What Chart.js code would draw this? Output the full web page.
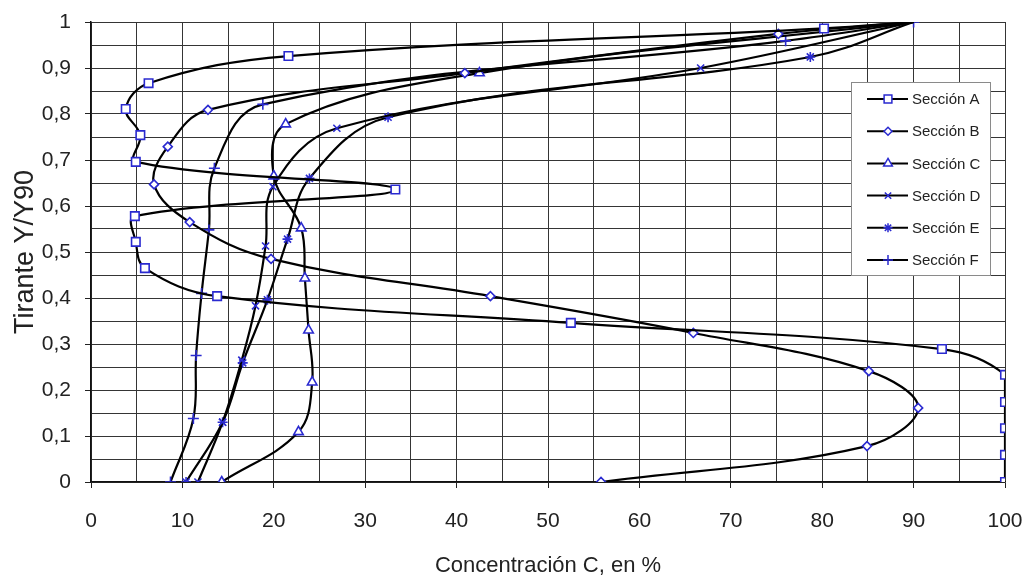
<!DOCTYPE html>
<html>
<head>
<meta charset="utf-8">
<title>Concentración vs Tirante</title>
<script src="https://cdn.jsdelivr.net/npm/chart.js"></script>
<style>
  body { margin: 0; background: #fff; }
  #wrap { width: 1026px; height: 580px; }
</style>
</head>
<body>
<div id="wrap"><canvas id="perfilChart" width="1026" height="580"></canvas></div>
<script>
// ============================================================================
// DATA (x = concentración %, y = tirante Y/Y90)
// ============================================================================

const seriesNames = ['Sección A', 'Sección B', 'Sección C', 'Sección D', 'Sección E', 'Sección F'];

const seccionA_x = [100, 100, 100, 100, 100, 93.1, 52.5, 13.8, 5.9, 4.9, 4.8, 33.3, 4.9, 5.4, 3.8, 6.3, 21.6, 80.2, 90];
const seccionA_y = [0, 0.059, 0.117, 0.174, 0.233, 0.289, 0.346, 0.404, 0.465, 0.522, 0.578, 0.636, 0.696, 0.754, 0.811, 0.867, 0.926, 0.986, 1];

const seccionB_x = [55.8, 84.9, 90.5, 85.1, 65.9, 43.7, 19.7, 10.8, 6.9, 8.4, 12.8, 40.9, 75.2, 90];
const seccionB_y = [0, 0.078, 0.161, 0.241, 0.324, 0.404, 0.485, 0.565, 0.647, 0.729, 0.809, 0.889, 0.974, 1];

const seccionC_x = [14.3, 22.7, 24.2, 23.8, 23.4, 23.0, 20.0, 21.3, 42.5, 90];
const seccionC_y = [0, 0.109, 0.217, 0.330, 0.443, 0.552, 0.665, 0.778, 0.889, 1];

const seccionD_x = [11.7, 14.4, 16.5, 18.0, 19.1, 19.9, 26.9, 66.7, 90];
const seccionD_y = [0, 0.130, 0.265, 0.383, 0.513, 0.642, 0.769, 0.900, 1];

const seccionE_x = [10.4, 14.4, 16.6, 19.3, 21.5, 23.9, 32.5, 78.7, 90];
const seccionE_y = [0, 0.130, 0.259, 0.396, 0.528, 0.660, 0.793, 0.924, 1];

const seccionF_x = [8.7, 11.2, 11.5, 12.1, 12.9, 13.5, 18.8, 76.0, 90];
const seccionF_y = [0, 0.138, 0.275, 0.410, 0.548, 0.682, 0.821, 0.959, 1];

const xTicks = [0, 10, 20, 30, 40, 50, 60, 70, 80, 90, 100];
const yTicks = ['0', '0,1', '0,2', '0,3', '0,4', '0,5', '0,6', '0,7', '0,8', '0,9', '1'];

// ============================================================================
// STYLE
// ============================================================================

const FONT = "'Liberation Sans', Arial, sans-serif";
const MARKER_COLOR = '#2a2ad0';
const GRID_COLOR = '#353535';

const markers = [
    { style: 'rect', radius: 6 },
    { style: 'rectRot', radius: 4.5 },
    { style: 'triangle', radius: 5.5 },
    { style: 'crossRot', radius: 5 },
    { style: 'star', radius: 5 },
    { style: 'cross', radius: 5.5 }
];

function toPoints(xs, ys) {
    return xs.map((x, i) => ({ x: x, y: ys[i] }));
}

const allSeries = [
    toPoints(seccionA_x, seccionA_y),
    toPoints(seccionB_x, seccionB_y),
    toPoints(seccionC_x, seccionC_y),
    toPoints(seccionD_x, seccionD_y),
    toPoints(seccionE_x, seccionE_y),
    toPoints(seccionF_x, seccionF_y)
];

// Shared end point (90, 1) only shows the last series' marker
function markerRadius(dsIndex) {
    return function(ctx) {
        const raw = ctx.raw;
        if (raw && raw.y === 1 && dsIndex !== allSeries.length - 1) return 0;
        return markers[dsIndex].radius;
    };
}

// ============================================================================
// LEGEND (inside plot, top right)
// ============================================================================

const insideLegend = {
    id: 'insideLegend',
    afterDraw(chart) {
        const ctx = chart.ctx;
        const area = chart.chartArea;
        const boxW = 139, boxH = 193;
        const left = area.right - 15 - boxW;
        const top = area.top + 60;

        ctx.save();
        ctx.fillStyle = '#ffffff';
        ctx.fillRect(left, top, boxW, boxH);
        ctx.strokeStyle = '#8a8a8a';
        ctx.lineWidth = 1;
        ctx.strokeRect(left + 0.5, top + 0.5, boxW, boxH);

        ctx.font = '15px ' + FONT;
        ctx.textBaseline = 'middle';
        ctx.textAlign = 'left';

        seriesNames.forEach((name, i) => {
            const y = top + 17 + i * 32.2;
            ctx.strokeStyle = '#000';
            ctx.lineWidth = 2;
            ctx.beginPath();
            ctx.moveTo(left + 16, y);
            ctx.lineTo(left + 57, y);
            ctx.stroke();

            ctx.strokeStyle = MARKER_COLOR;
            ctx.fillStyle = '#ffffff';
            ctx.lineWidth = 1.5;
            Chart.helpers.drawPoint(ctx, {
                pointStyle: markers[i].style,
                radius: markers[i].radius - 0.5,
                borderWidth: 1.5,
                rotation: 0
            }, left + 37, y);

            ctx.fillStyle = '#222';
            ctx.fillText(name, left + 61, y + 1);
        });
        ctx.restore();
    }
};

// ============================================================================
// CHART
// ============================================================================

function isMajor(value, step) {
    return Math.abs(Math.round(value / step) * step - value) < 1e-6;
}

// keep the plot box fixed: no extra room for overhanging labels
function noScalePadding(scale) {
    scale.paddingLeft = 0;
    scale.paddingRight = 0;
    scale.paddingTop = 0;
    scale.paddingBottom = 0;
}

function initPerfilChart() {
    const ctx = document.getElementById('perfilChart');

    const datasets = allSeries.map((pts, i) => ({
        label: seriesNames[i],
        data: pts,
        showLine: true,
        borderColor: '#000000',
        borderWidth: 2.2,
        tension: 0.38,
        pointStyle: markers[i].style,
        pointRadius: markerRadius(i),
        pointBorderColor: MARKER_COLOR,
        pointBackgroundColor: '#ffffff',
        pointBorderWidth: 1.6
    }));

    new Chart(ctx, {
        type: 'scatter',
        data: { datasets: datasets },
        options: {
            responsive: false,
            animation: false,
            layout: { padding: { left: 0, top: 22, right: 21, bottom: 0 } },
            plugins: {
                legend: { display: false },
                tooltip: { enabled: false }
            },
            scales: {
                x: {
                    type: 'linear',
                    min: 0,
                    max: 100,
                    afterFit: function(scale) { scale.height = 98; noScalePadding(scale); },
                    ticks: {
                        stepSize: 5,
                        padding: 21,
                        color: '#222',
                        font: { family: FONT, size: 21 },
                        maxRotation: 0,
                        autoSkip: false,
                        callback: function(value) {
                            const idx = xTicks.indexOf(Math.round(value));
                            return isMajor(value, 10) && idx >= 0 ? String(xTicks[idx]) : '';
                        }
                    },
                    grid: {
                        color: GRID_COLOR,
                        lineWidth: 1,
                        tickLength: 6,
                        tickColor: function(c) {
                            return c.tick && isMajor(c.tick.value, 10) ? '#222' : 'rgba(0,0,0,0)';
                        }
                    },
                    border: { color: '#111', width: 1.5 },
                    title: {
                        display: true,
                        text: 'Concentración C, en %',
                        color: '#222',
                        font: { family: FONT, size: 22 },
                        padding: { top: 0, bottom: 1 }
                    }
                },
                y: {
                    type: 'linear',
                    min: 0,
                    max: 1,
                    afterFit: function(scale) { scale.width = 91; noScalePadding(scale); },
                    ticks: {
                        stepSize: 0.05,
                        padding: 14,
                        color: '#222',
                        font: { family: FONT, size: 21 },
                        autoSkip: false,
                        callback: function(value) {
                            if (!isMajor(value, 0.1)) return '';
                            return yTicks[Math.round(value * 10)];
                        }
                    },
                    grid: {
                        color: GRID_COLOR,
                        lineWidth: 1,
                        tickLength: 6,
                        tickColor: function(c) {
                            return c.tick && isMajor(c.tick.value, 0.1) ? '#222' : 'rgba(0,0,0,0)';
                        }
                    },
                    border: { color: '#111', width: 1.5 },
                    title: {
                        display: true,
                        text: 'Tirante Y/Y90',
                        color: '#222',
                        font: { family: FONT, size: 27 },
                        padding: { top: 9, bottom: 0 }
                    }
                }
            }
        },
        plugins: [insideLegend]
    });
}

document.addEventListener('DOMContentLoaded', initPerfilChart);
</script>
</body>
</html>
